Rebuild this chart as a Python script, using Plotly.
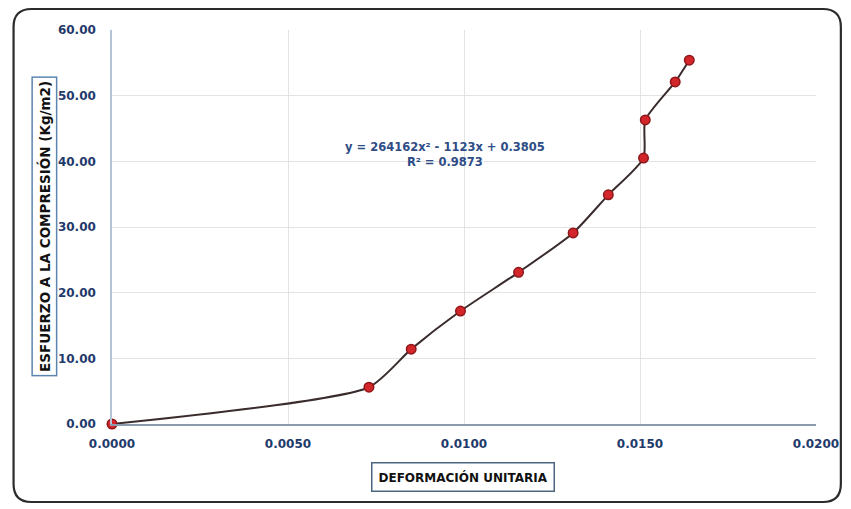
import plotly.graph_objects as go

# Unit strain vs compressive stress readings
deformacion = [0.0, 0.0073, 0.0085, 0.0099, 0.01155, 0.0131, 0.0141, 0.01510, 0.01515, 0.0160, 0.0164]
esfuerzo = [0.0, 5.6, 11.4, 17.2, 23.1, 29.1, 34.9, 40.5, 46.3, 52.1, 55.4]

x_ticks = [0.0, 0.005, 0.010, 0.015, 0.020]
y_ticks = [0, 10, 20, 30, 40, 50, 60]

ecuacion = "y = 264162x² - 1123x + 0.3805"
r2 = "R² = 0.9873"

W, H = 851, 509
L, R, T, B = 112, 31, 30, 85
PW, PH = W - L - R, H - T - B


def px(xp):
    return (xp - L) / PW


def py(yp):
    return (H - B - yp) / PH


navy = "#1F3A6B"
FONT = "DejaVu Sans"

fig = go.Figure()
fig.add_trace(go.Scatter(
    x=deformacion, y=esfuerzo, mode="lines+markers",
    line=dict(color="#3A2C2C", width=2, shape="spline", smoothing=0.6),
    marker=dict(size=9.5, color="#D2262B", line=dict(color="#8E1518", width=1.5)),
    showlegend=False, cliponaxis=False,
))

# rounded frame around the whole chart
x0, y0, x1, y1, r = px(13), py(9), px(845), py(502), 18
rx, ry = r / PW, r / PH
path = (f"M {x0} {y0 - ry} L {x0} {y1 + ry} Q {x0} {y1} {x0 + rx} {y1} "
        f"L {x1 - rx} {y1} Q {x1} {y1} {x1} {y1 + ry} L {x1} {y0 - ry} "
        f"Q {x1} {y0} {x1 - rx} {y0} L {x0 + rx} {y0} Q {x0} {y0} {x0} {y0 - ry} Z")
fig.add_shape(type="path", path=path, xref="paper", yref="paper",
              line=dict(color="#2B2B2B", width=2.2), layer="above")

fig.add_annotation(text=f"<b>{ecuacion}</b><br><b>{r2}</b>", x=px(447), y=py(154),
                   xref="paper", yref="paper", xanchor="center", yanchor="middle",
                   showarrow=False,
                   font=dict(family=FONT, size=11.5, color="#2E4C86"),
                   align="center")

fig.add_annotation(text="<b>ESFUERZO A LA COMPRESIÓN (Kg/m2)</b>", textangle=-90,
                   x=px(44), y=py(226), xref="paper", yref="paper",
                   xanchor="center", yanchor="middle", showarrow=False,
                   font=dict(family=FONT, size=13.5, color="#111111"),
                   bordercolor="#5B86B0", borderwidth=1.5, borderpad=3, bgcolor="white")

fig.add_annotation(text="<b>DEFORMACIÓN UNITARIA</b>",
                   x=px(465), y=py(477), xref="paper", yref="paper",
                   xanchor="center", yanchor="middle", showarrow=False,
                   font=dict(family=FONT, size=12, color="#111111"),
                   bordercolor="#4A6680", borderwidth=1.5, borderpad=6, bgcolor="white")

fig.update_xaxes(range=[0, 0.02], tickvals=x_ticks, tickformat=".4f",
                 showgrid=True, gridcolor="#E3E3E3", gridwidth=1,
                 showline=True, linecolor="#8C9AAE", linewidth=1.5,
                 zeroline=False, ticks="", ticklabelstandoff=8,
                 tickfont=dict(family=FONT, size=12, color=navy, weight="bold"))
fig.update_yaxes(range=[0, 60], tickvals=y_ticks, tickformat=".2f",
                 showgrid=True, gridcolor="#E3E3E3", gridwidth=1,
                 showline=True, linecolor="#B5C3D6", linewidth=1.5,
                 zeroline=False, ticks="", ticklabelstandoff=12,
                 tickfont=dict(family=FONT, size=12, color=navy, weight="bold"))

fig.update_layout(width=W, height=H, margin=dict(l=L, r=R, t=T, b=B),
                  paper_bgcolor="white", plot_bgcolor="white")

fig.write_html("out.html")
